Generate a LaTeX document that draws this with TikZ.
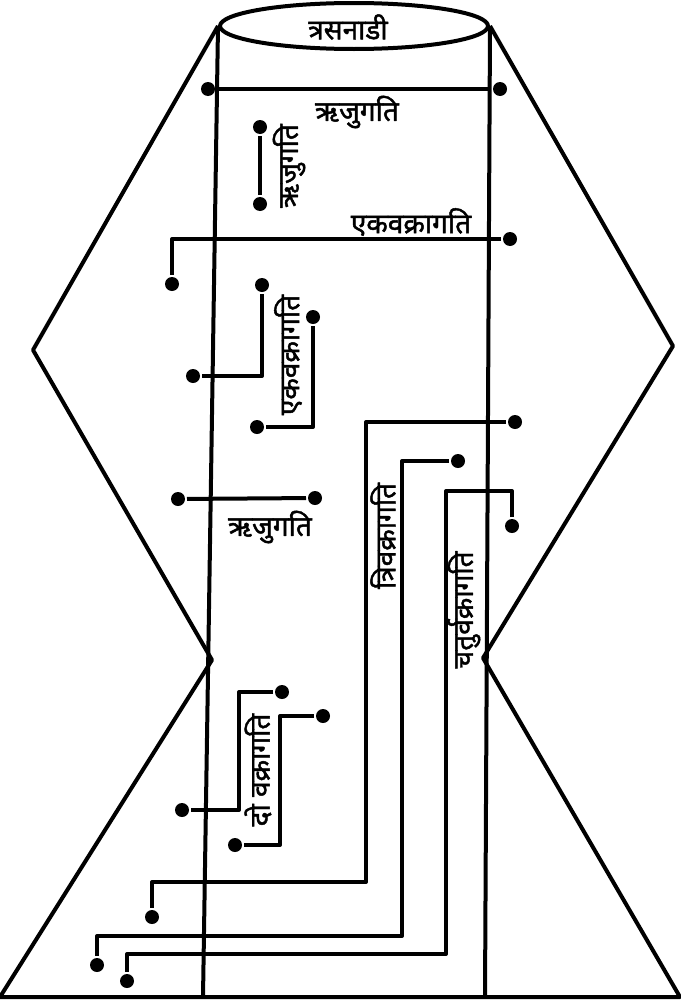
\documentclass[tikz,border=0pt]{standalone}
\usepackage{fontspec}
\newfontfamily\deva[Script=Devanagari, FakeBold=1.5]{Noto Sans}
\usetikzlibrary{positioning,shapes.geometric}

\begin{document}
\begin{tikzpicture}[x=1pt, y=-1pt, line width=4pt, line join=round,
    bead/.style={circle, fill=black, inner sep=0pt, minimum size=14pt},
    gati/.style={font=\deva\fontsize{28}{31}\selectfont, inner sep=1pt},
    upgati/.style={gati, rotate=90}]
  \useasboundingbox (0,0) rectangle (680,1001);

  % Outline
  \node [draw, ellipse, minimum width=268pt, minimum height=46pt, gati] (tras) at (354,26) {};
  \node [gati] (trastxt) at (348,27) {त्रसनाडी};
  \coordinate (tipL) at (33,350);
  \coordinate (tipR) at (673,346);
  \coordinate (waistL) at (212,660);
  \coordinate (waistR) at (483,658);
  \coordinate (baseL) at (0,997);
  \coordinate (baseR) at (680,997);
  \coordinate (tubeL) at (203,997);
  \coordinate (tubeR) at (485,997);
  \draw (tras.west) -- (tipL) -- (waistL) -- (baseL) -- (baseR) -- (waistR) -- (tipR) -- (tras.east);
  \draw (tras.west) -- (tubeL);
  \draw (tras.east) -- (tubeR);

  % Nodes
  \node [bead] (r1L) at (208,89) {};
  \node [bead] (r1R) at (500,89) {};
  \node [bead] (r2T) at (260,127) {};
  \node [bead] (r2B) at (260,204) {};
  \node [bead] (ekR) at (510,239) {};
  \node [bead] (ekL) at (172,284) {};
  \node [bead] (ekaT) at (262,285) {};
  \node [bead] (ekaL) at (193,376) {};
  \node [bead] (ekbT) at (313,317) {};
  \node [bead] (ekbL) at (257,427) {};
  \node [bead] (r3L) at (178,499) {};
  \node [bead] (r3R) at (315,498) {};
  \node [bead] (triR) at (515,422) {};
  \coordinate (triK) at (366,882);
  \node [bead] (triL) at (152,917) {};
  \node [bead] (tbR) at (458,461) {};
  \coordinate (tbK) at (402,936);
  \node [bead] (tbL) at (97,965) {};
  \node [bead] (chR) at (512,526) {};
  \coordinate (chA) at (446,491);
  \coordinate (chB) at (446,954);
  \node [bead] (chL) at (127,981) {};
  \node [bead] (doaR) at (282,692) {};
  \coordinate (doaK) at (239,810);
  \node [bead] (doaL) at (182,810) {};
  \node [bead] (dobR) at (323,716) {};
  \coordinate (dobK) at (280,845);
  \node [bead] (dobL) at (235,845) {};

  % Labels
  \node [gati] (r1txt) at (357,112) {ऋजुगति};
  \node [upgati] (r2txt) at (289,166) {ऋजुगति};
  \node [gati] (ektxt) at (411,222) {एकवक्रागति};
  \node [upgati] (ek2txt) at (288,355) {एकवक्रागति};
  \node [gati] (r3txt) at (270,527) {ऋजुगति};
  \node [upgati] (tritxt) at (383,536) {त्रिवक्रागति};
  \node [upgati] (chtxt) at (464,610) {चतुर्वक्रागति};
  \node [upgati] (dotxt) at (258,770) {दो वक्रागति};

  % Paths
  \draw (r1L) -- (r1R);
  \draw (r2T) -- (r2B);
  \draw (ekR) -| (ekL);
  \draw (ekaT) |- (ekaL);
  \draw (ekbT) |- (ekbL);
  \draw (r3L) -- (r3R);
  \draw (triR) -| (triK) -| (triL);
  \draw (tbR) -| (tbK) -| (tbL);
  \draw (chR) |- (chA) -- (chB) -| (chL);
  \draw (doaR) -| (doaK) -- (doaL);
  \draw (dobR) -| (dobK) -- (dobL);
\end{tikzpicture}
\end{document}
